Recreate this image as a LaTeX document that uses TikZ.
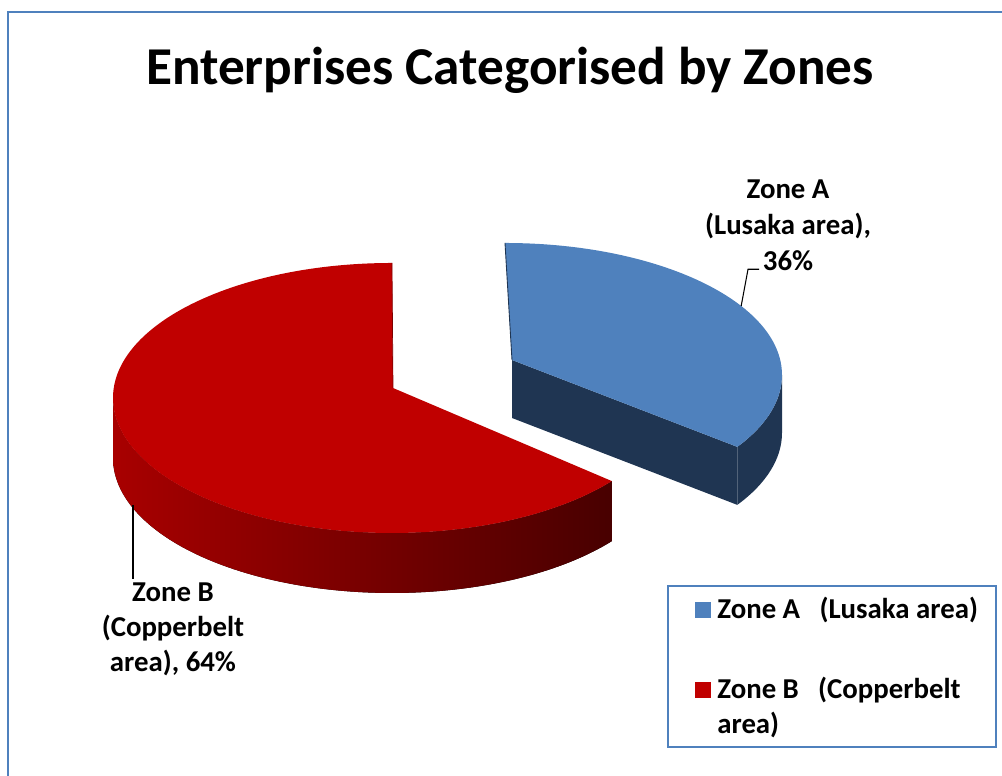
\documentclass[tikz,border=0pt]{standalone}
\usepackage{fontspec}
\setmainfont{Carlito}
\definecolor{zoneA}{HTML}{4F81BD}
\definecolor{zoneAside}{HTML}{1F3552}
\definecolor{zoneB}{HTML}{C00000}
\definecolor{zoneBlight}{HTML}{A80000}
\definecolor{zoneBdark}{HTML}{480000}
\definecolor{chartframe}{HTML}{4F81BD}
\tikzset{
  lbl/.style={font=\fontsize{16.4}{20}\selectfont\bfseries, inner sep=0pt, anchor=base},
  leader/.style={line width=0.6pt},
  key/.style={minimum size=0.32cm, inner sep=0pt}
}
\begin{document}
\begin{tikzpicture}[x=0.02cm, y=0.02cm]
          \useasboundingbox (0,0) rectangle (1002,776);
          \draw [chartframe, line width=0.9pt] (8,0) -- (8,764) -- (1002,764);

          \node [font=\fontsize{30.3}{36}\selectfont\bfseries, inner sep=0pt, anchor=base] (title) at (510,691) {Enterprises Categorised by Zones};

          \coordinate (ctrB) at (392,378);
          \coordinate (apexB) at (393,388);
          \coordinate (ctrA) at (505,401);
          \coordinate (apexA) at (512,416);

          \fill [left color=zoneBlight, right color=zoneBdark] ([shift={(180:279 and 135)}]ctrB) arc [start angle=180, end angle=322, x radius=279, y radius=135] -- ++(0,-60) arc [start angle=322, end angle=180, x radius=279, y radius=135] -- cycle;
          \fill [zoneB] (apexB) -- ([shift={(90:279 and 135)}]ctrB) arc [start angle=90, end angle=322, x radius=279, y radius=135] -- cycle;
          \draw [zoneB!65!black, line width=0.4pt] (apexB) -- ([shift={(90:279 and 135)}]ctrB);

          \fill [zoneAside] ([shift={(0:277 and 132)}]ctrA) arc [start angle=0, end angle=-33, x radius=277, y radius=132] -- ++(0,-58) arc [start angle=-33, end angle=0, x radius=277, y radius=132] -- cycle;
          \fill [zoneAside] (apexA) -- ([shift={(-33:277 and 132)}]ctrA) -- ++(0,-58) -- ([yshift=-58*0.02cm]apexA) -- cycle;
          \fill [zoneA] (apexA) -- ([shift={(90:277 and 132)}]ctrA) arc [start angle=90, end angle=-33, x radius=277, y radius=132] -- cycle;
          \draw [zoneAside, line width=0.5pt] (apexA) -- ([shift={(90:277 and 132)}]ctrA);

          \coordinate (tipA) at ([shift={(31.5:277 and 132)}]ctrA);
          \coordinate (tipB) at (133,271);

          \node [lbl] (labA1) at (788,577) {Zone A};
          \node [lbl] (labA2) at (788,541) {(Lusaka area),};
          \node [lbl] (labA3) at (788,505) {36\%};
          \draw [leader] ([shift={(-2pt,1pt)}]labA3.base west) -- ++(-11,0) -- (tipA);

          \node [lbl] (labB1) at (173,174) {Zone B};
          \node [lbl] (labB2) at (173,139) {(Copperbelt};
          \node [lbl] (labB3) at (173,104) {area), 64\%};
          \draw [leader] (tipB) -- ([yshift=2pt]tipB |- labB1.north);

          \node [draw=chartframe, line width=0.7pt, minimum width=6.56cm, minimum height=3.22cm, inner sep=0pt] (legend) at (832,109.5) {};
          \node [key, fill=zoneA] (keyA) at (703,166) {};
          \node [key, fill=zoneB] (keyB) at (703,86) {};
          \node [lbl, anchor=base west] (legA) at (717,157) {Zone A\hspace{11pt}(Lusaka area)};
          \node [lbl, anchor=base west] (legB1) at (717,77) {Zone B\hspace{11pt}(Copperbelt};
          \node [lbl, anchor=base west] (legB2) at (717,42) {area)};
\end{tikzpicture}
\end{document}
